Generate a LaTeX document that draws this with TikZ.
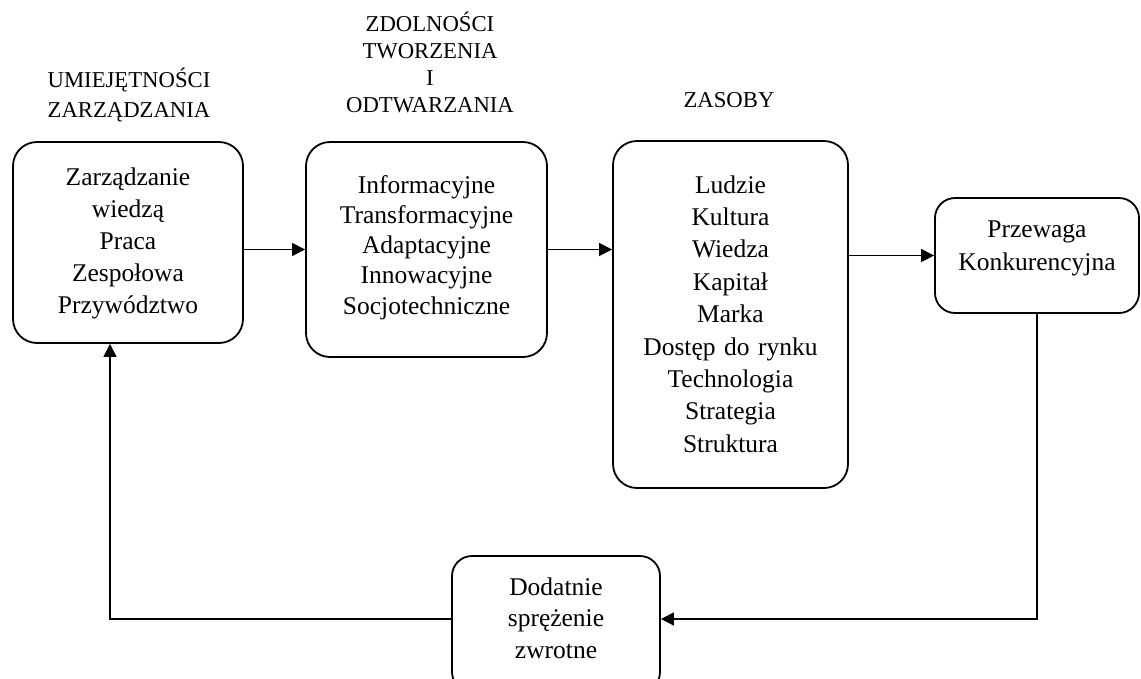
\documentclass[tikz,border=0pt]{standalone}
\usepackage{fontspec}
\setmainfont{Liberation Serif}
\usetikzlibrary{arrows.meta}
\begin{document}
\begin{tikzpicture}[x=1pt,y=-1pt,
  box/.style={draw, line width=1.8pt, rounded corners=24pt, inner sep=0pt},
  smallbox/.style={box, rounded corners=20pt},
  arr/.style={line width=1.3pt, -{Triangle[length=13pt,width=13pt]}},
  link/.style={line width=1.3pt},
  body/.style={anchor=base, inner sep=0pt, text width=260pt, align=center},
  head/.style={anchor=base, inner sep=0pt, text width=260pt, align=center}]
\useasboundingbox (0,0) rectangle (1141,678);
\clip (0,0) rectangle (1141,678);

% column headings
\node[head, font=\fontsize{22.7}{30}\selectfont] (h1) at (129,87)
  {UMIEJĘTNOŚCI\\ZARZĄDZANIA};
\node[head, font=\fontsize{22.7}{27.3}\selectfont] (h2) at (430,31)
  {ZDOLNOŚCI\\TWORZENIA\\I\\ODTWARZANIA};
\node[head, font=\fontsize{22.7}{30}\selectfont] (h3) at (729,107) {ZASOBY};

% boxes
\node[box, minimum width=230pt, minimum height=201pt] (b1) at (128,242.5) {};
\node[box, minimum width=241pt, minimum height=215pt] (b2) at (426.5,249.5) {};
\node[box, minimum width=235pt, minimum height=347pt] (b3) at (730.5,314.5) {};
\node[smallbox, minimum width=204pt, minimum height=115pt] (b4) at (1037,255.5) {};
\node[smallbox, minimum width=208pt, minimum height=136pt] (b5) at (556,624) {};

% box contents
\node[body, font=\fontsize{25.5}{32}\selectfont] (t1) at (128,185)
  {Zarządzanie\\wiedzą\\Praca\\Zespołowa\\Przywództwo};
\node[body, font=\fontsize{25.5}{30.3}\selectfont] (t2) at (426.5,193)
  {Informacyjne\\Transformacyjne\\Adaptacyjne\\Innowacyjne\\Socjotechniczne};
\node[body, font=\fontsize{25.5}{32.4}\selectfont] (t3) at (730.5,193)
  {Ludzie\\Kultura\\Wiedza\\Kapitał\\Marka\\Dostęp do rynku\\Technologia\\Strategia\\Struktura};
\node[body, font=\fontsize{25.5}{33}\selectfont] (t4) at (1037,237)
  {Przewaga\\Konkurencyjna};
\node[body, font=\fontsize{25.5}{31.5}\selectfont] (t5) at (556,595)
  {Dodatnie\\sprężenie\\zwrotne};

% feedback loop levels
\coordinate (fb) at (0,619);
\coordinate (fbl) at (110,619);

% connectors
\draw[arr] (b1.east |- b2.west) -- (b2.west);
\draw[arr] (b2.east) -- (b2.east -| b3.west);
\draw[arr] (b3.east |- b4.west) -- (b4.west);
\draw[arr] (b4.south) |- (b5.east |- fb);
\draw[arr] (b5.west |- fb) -- (fbl) -- (fbl |- b1.south);
\end{tikzpicture}
\end{document}
